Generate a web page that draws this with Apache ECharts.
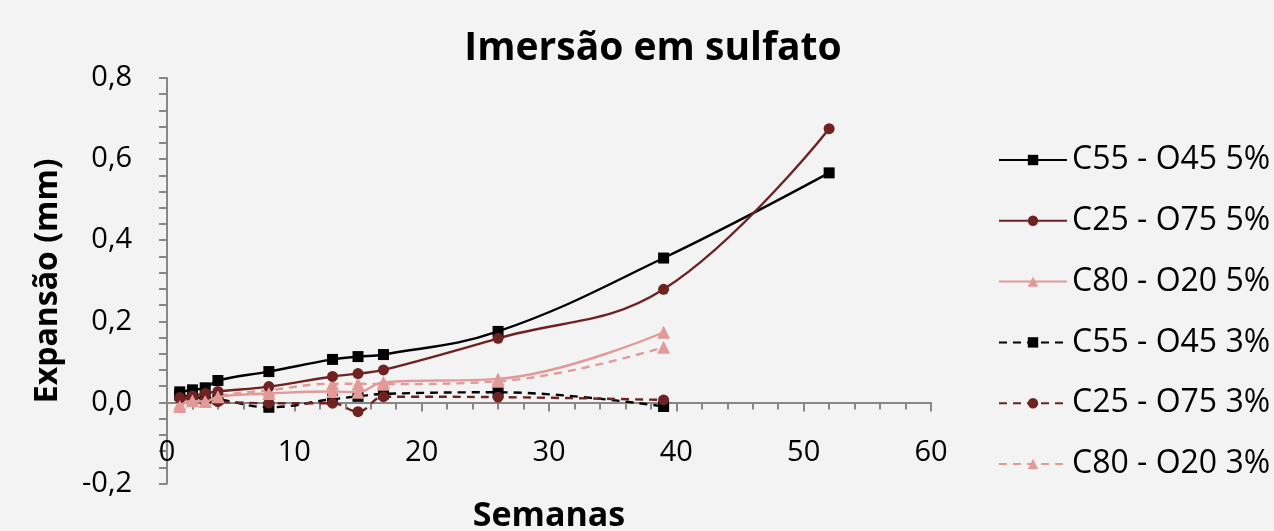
<!DOCTYPE html>
<html>
<head>
<meta charset="utf-8">
<script src="https://cdn.jsdelivr.net/npm/echarts@6/dist/echarts.min.js"></script>
<style>
    html, body { margin: 0; padding: 0; background: #f3f3f3; }
    #chart { width: 1274px; height: 531px; }
</style>
</head>
<body>
<div id="chart"></div>
<script>
    // semanas de imersão
    var weeks = [1, 2, 3, 4, 8, 13, 15, 17, 26, 39, 52];

    var seriesNames = [
        'C55 - O45 5%', 'C25 - O75 5%', 'C80 - O20 5%',
        'C55 - O45 3%', 'C25 - O75 3%', 'C80 - O20 3%'
    ];

    // expansão (mm)
    var c55o45_5 = [0.026, 0.031, 0.036, 0.054, 0.076, 0.106, 0.113, 0.118, 0.175, 0.356, 0.566];
    var c25o75_5 = [0.012, 0.016, 0.022, 0.027, 0.039, 0.064, 0.071, 0.080, 0.158, 0.279, 0.675];
    var c80o20_5 = [-0.010, 0.004, 0.002, 0.014, 0.022, 0.027, 0.025, 0.050, 0.058, 0.173];
    var c55o45_3 = [0.018, 0.014, 0.010, 0.008, -0.012, 0.008, 0.015, 0.021, 0.025, -0.010];
    var c25o75_3 = [0.010, 0.008, 0.006, 0.002, -0.002, -0.002, -0.023, 0.014, 0.013, 0.006];
    var c80o20_3 = [-0.004, 0.008, 0.003, 0.016, 0.030, 0.046, 0.046, 0.045, 0.052, 0.136];

    var xTicks = [0, 10, 20, 30, 40, 50, 60];
    var yTicks = [-0.2, 0, 0.2, 0.4, 0.6, 0.8];

    var FONT = '"Open Sans", "Noto Sans", sans-serif';

    function pairs(vals) {
        var out = [];
        for (var i = 0; i < vals.length; i++) {
            out.push([weeks[i], vals[i]]);
        }
        return out;
    }

    function makeSeries(name, vals, color, symbol, size, dashed) {
        return {
            name: name,
            type: 'line',
            smooth: 0.4,
            data: pairs(vals),
            symbol: symbol,
            symbolSize: size,
            showAllSymbol: true,
            itemStyle: { color: color },
            lineStyle: { color: color, width: 2.4, type: dashed ? [8, 6] : 'solid' },
            z: dashed ? 2 : 3
        };
    }

    var myChart = echarts.init(document.getElementById('chart'));
    myChart.setOption({
        backgroundColor: '#f3f3f3',
        animation: false,
        title: {
            text: 'Imersão em sulfato',
            left: 648,
            textAlign: 'center',
            top: 24,
            textStyle: { fontFamily: FONT, fontSize: 39, fontWeight: 'bold', color: '#000' }
        },
        legend: {
            orient: 'vertical',
            left: 993,
            top: 137,
            itemWidth: 68,
            itemHeight: 13,
            itemGap: 24.8,
            textStyle: { fontFamily: FONT, fontSize: 32, color: '#000', lineHeight: 36 },
            data: seriesNames
        },
        grid: { left: 167, top: 78, width: 764, height: 405.5, outerBoundsMode: 'none', containLabel: false },
        xAxis: {
            type: 'value',
            min: xTicks[0],
            max: xTicks[xTicks.length - 1],
            interval: 10,
            name: 'Semanas',
            nameLocation: 'middle',
            nameGap: 16,
            nameTextStyle: { fontFamily: FONT, fontSize: 34, fontWeight: 'bold', color: '#000' },
            axisLine: { onZero: true, lineStyle: { color: '#878787', width: 2 } },
            axisTick: { show: true, length: 9, lineStyle: { color: '#878787', width: 2 } },
            minorTick: { show: true, splitNumber: 5, length: 7, lineStyle: { color: '#878787', width: 2 } },
            axisLabel: {
                margin: -45, fontFamily: FONT, fontSize: 29, color: '#000',
                showMinLabel: true, showMaxLabel: true
            },
            splitLine: { show: false }
        },
        yAxis: {
            type: 'value',
            min: yTicks[0],
            max: yTicks[yTicks.length - 1],
            interval: 0.2,
            name: 'Expansão (mm)',
            nameLocation: 'middle',
            nameRotate: 90,
            nameGap: 103,
            nameTextStyle: { fontFamily: FONT, fontSize: 32, fontWeight: 'bold', color: '#000' },
            axisLine: { show: true, lineStyle: { color: '#878787', width: 2 } },
            axisTick: { show: true, length: 8, lineStyle: { color: '#878787', width: 2 } },
            minorTick: { show: true, splitNumber: 5, length: 8, lineStyle: { color: '#878787', width: 2 } },
            axisLabel: {
                margin: 35, fontFamily: FONT, fontSize: 29, color: '#000',
                formatter: function (v) { return v.toFixed(1).replace('.', ','); }
            },
            splitLine: { show: false }
        },
        series: [
            makeSeries(seriesNames[0], c55o45_5, '#000000', 'rect', 11, false),
            makeSeries(seriesNames[1], c25o75_5, '#6e2222', 'circle', 11, false),
            makeSeries(seriesNames[2], c80o20_5, '#e29a98', 'triangle', 13, false),
            makeSeries(seriesNames[3], c55o45_3, '#000000', 'rect', 11, true),
            makeSeries(seriesNames[4], c25o75_3, '#6e2222', 'circle', 11, true),
            makeSeries(seriesNames[5], c80o20_3, '#e29a98', 'triangle', 13, true)
        ]
    });
</script>
</body>
</html>
